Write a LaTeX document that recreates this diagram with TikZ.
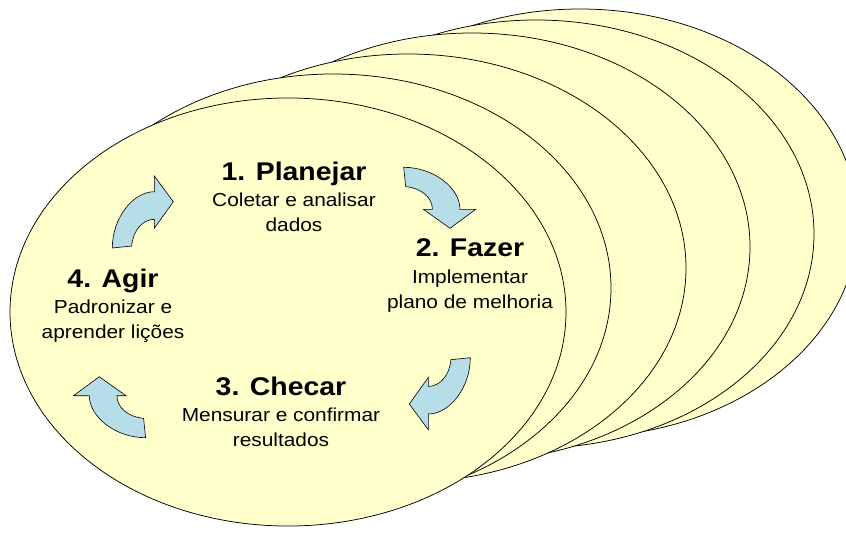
\documentclass[tikz,border=0pt]{standalone}
\usepackage{fontspec}
\setmainfont[FakeStretch=1.11]{Liberation Sans}
\usetikzlibrary{positioning}

\definecolor{discyellow}{RGB}{255,255,204}
\definecolor{turnblue}{RGB}{183,221,232}
\newcommand{\titlefont}{\fontsize{25.6}{25}\bfseries\selectfont}
\newcommand{\descfont}{\fontsize{18.8}{25}\selectfont}

% curved block arrow, center and rotation
\newcommand{\cyclearrow}[3]{%
  \draw[turn, shift={(#2)}, rotate=#3] (-60.7,0)
    .. controls (-60.7,-30) and (-40,-56.3) .. (-18.7,-56.3)
    -- (-18.7,-72) -- (0.3,-46.3) -- (-18.7,-19.7) -- (-18.7,-28.7)
    .. controls (-30,-28.7) and (-40,-18) .. (-41.3,-2) -- cycle;
  \coordinate (#1) at (#2);}

\begin{document}
\begin{tikzpicture}[x=1pt,y=-1pt,
disc/.style={draw=black, line width=0.75pt, fill=discyellow},
turn/.style={draw=black, line width=0.6pt, fill=turnblue},
phase/.style={align=center, anchor=base, font=\descfont, inner sep=0pt},
]
\useasboundingbox (0,0) rectangle (846,533);
\clip (0,0) rectangle (846,533);
%Discs
\foreach \cx/\cy in {580/223, 536/234, 472/247, 408/268, 333/288, 288/312}
  \draw[disc] (\cx,\cy) ellipse [x radius=278, y radius=214];
%Arrows
\cyclearrow{agirplan}{173,248}{0}
\cyclearrow{planfazer}{403.7,228}{-90}
\cyclearrow{fazerchecar}{409.6,357.7}{180}
\cyclearrow{checaragir}{145.6,377}{90}
%Phases
\node[phase] (plan) at (294,231.5) {{\titlefont 1. Planejar}\\[1.5pt] Coletar e analisar\\ dados};
\node[phase] (fazer) at (470,308) {{\titlefont 2. Fazer}\\[1.5pt] Implementar\\ plano de melhoria};
\node[phase] (checar) at (281,446.5) {{\titlefont 3. Checar}\\[1.5pt] Mensurar e confirmar\\ resultados};
\node[phase] (agir) at (113,338.5) {{\titlefont 4. Agir}\\[1.5pt] Padronizar e\\ aprender lições};
\end{tikzpicture}
\end{document}
